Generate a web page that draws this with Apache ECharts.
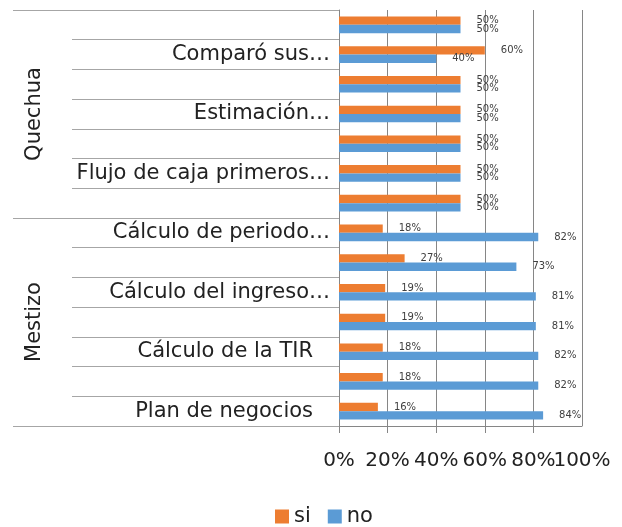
<!DOCTYPE html>
<html>
<head>
<meta charset="utf-8">
<script src="https://cdn.jsdelivr.net/npm/echarts@6/dist/echarts.min.js"></script>
<style>
  html, body { margin: 0; padding: 0; background: #fff; }
  #chart { width: 622px; height: 527px; }
</style>
</head>
<body>
<div id="chart"></div>
<script>
// Rows from top to bottom; empty strings are rows whose labels are hidden
const categories = [
  '', 'Comparó sus…', '', 'Estimación…', '', 'Flujo de caja primeros…', '',
  'Cálculo de periodo…', '', 'Cálculo del ingreso…', '', 'Cálculo de la TIR', '', 'Plan de negocios'
];
const groups = ['Quechua', 'Mestizo'];
const siValues = [50, 60, 50, 50, 50, 50, 50, 18, 27, 19, 19, 18, 18, 16];
const noValues = [50, 40, 50, 50, 50, 50, 50, 82, 73, 81, 81, 82, 82, 84];
const xTicks = [0, 20, 40, 60, 80, 100];

const FONT = '"DejaVu Sans"';
const X_MIN = xTicks[0];
const X_MAX = xTicks[xTicks.length - 1];
const chart = echarts.init(document.getElementById('chart'), null, { renderer: 'canvas' });

// Full (untruncated) labels sit a little further from the axis than clipped ones
const categoryData = categories.map(name => (
  name && !name.endsWith('…')
    ? { value: name, textStyle: { padding: [0, 17, 0, 0] } }
    : name
));

const labelOpt = {
  show: true,
  position: 'right',
  distance: 16,
  fontFamily: FONT,
  fontSize: 10,
  color: '#404040',
  formatter: p => p.value + '%'
};

const xLabelBase = {
  margin: 25,
  fontFamily: FONT,
  fontSize: 20,
  color: '#222'
};

chart.setOption({
  animation: false,
  textStyle: { fontFamily: FONT },
  grid: { left: 339, right: 40, top: 10, bottom: 101, containLabel: false },
  legend: {
    top: 501,
    left: 270,
    icon: 'rect',
    itemWidth: 14,
    itemHeight: 14,
    itemGap: 17,
    textStyle: { fontFamily: FONT, fontSize: 21, color: '#222' },
    data: ['si', 'no']
  },
  xAxis: [
    {
      // main value axis: lines, ticks and the labels up to 80%
      type: 'value',
      min: X_MIN,
      max: X_MAX,
      interval: 20,
      axisLine: { show: true, lineStyle: { color: '#868686', width: 1 } },
      axisTick: { show: true, length: 7, lineStyle: { color: '#868686' } },
      splitLine: { show: true, lineStyle: { color: '#868686', width: 1 } },
      axisLabel: Object.assign({}, xLabelBase, {
        showMinLabel: true,
        showMaxLabel: false,
        formatter: '{value}%'
      })
    },
    {
      // companion axis on the same scale that carries the end label
      type: 'value',
      position: 'bottom',
      min: X_MIN,
      max: X_MAX,
      interval: 20,
      axisLine: { show: false },
      axisTick: { show: false },
      splitLine: { show: false },
      axisLabel: Object.assign({}, xLabelBase, {
        showMinLabel: false,
        showMaxLabel: true,
        formatter: v => (v === X_MAX ? v + '%' : '')
      })
    }
  ],
  yAxis: [
    {
      type: 'category',
      inverse: true,
      data: categoryData,
      axisLine: { show: true, lineStyle: { color: '#868686' } },
      axisTick: { show: true, length: 267, lineStyle: { color: '#a6a6a6' } },
      axisLabel: {
        interval: 0,
        margin: 9,
        fontFamily: FONT,
        fontSize: 21,
        color: '#222'
      }
    },
    {
      type: 'category',
      inverse: true,
      position: 'left',
      data: groups,
      axisLine: { show: false },
      axisTick: { show: true, length: 326, lineStyle: { color: '#a6a6a6' } },
      axisLabel: {
        rotate: 90,
        margin: 294,
        fontFamily: FONT,
        fontSize: 21,
        color: '#222'
      }
    }
  ],
  series: [
    {
      name: 'si',
      type: 'bar',
      xAxisIndex: 0,
      yAxisIndex: 0,
      data: siValues,
      barWidth: '28%',
      barGap: '0%',
      itemStyle: { color: '#ED7D31' },
      label: labelOpt
    },
    {
      name: 'no',
      type: 'bar',
      xAxisIndex: 0,
      yAxisIndex: 0,
      data: noValues,
      barWidth: '28%',
      barGap: '0%',
      itemStyle: { color: '#5B9BD5' },
      label: labelOpt
    }
  ]
});
</script>
</body>
</html>
